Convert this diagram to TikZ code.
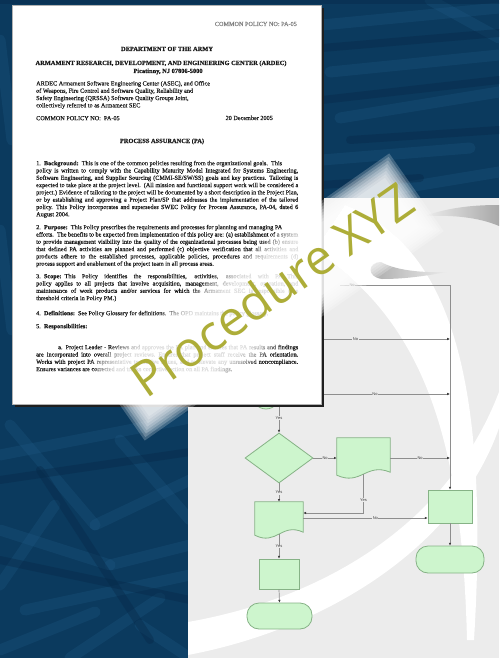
\documentclass[tikz,border=0pt]{standalone}
\usepackage{fontspec}
\setmainfont{Liberation Serif}
\newfontfamily\docfont{Liberation Serif}[FakeBold=0.35]
\newfontfamily\labelfont{Liberation Sans}
\newfontfamily\markfont{Open Sans}
\usetikzlibrary{shapes.geometric,arrows.meta,calc}

\definecolor{navy}{HTML}{0B3A5E}
\definecolor{navylight}{HTML}{1D5883}
\definecolor{navydark}{HTML}{062848}
\definecolor{pagegray}{HTML}{ECECEC}
\definecolor{swoosh}{HTML}{A8A8A8}
\definecolor{mint}{HTML}{CDF5CD}
\definecolor{mintline}{HTML}{86B286}
\definecolor{wire}{HTML}{8E8E8E}
\definecolor{tipcol}{HTML}{3C3C3C}
\definecolor{olive}{HTML}{ADAD38}
\definecolor{ink}{HTML}{1A1A1A}

% document symbol: rectangle with a wavy bottom edge, drawn round a named node
\newcommand\docoutline[1]{%
  \filldraw[flowshape] (#1.north west) -- (#1.north east) -- ($(#1.south east)+(0,-2)$)
    .. controls ($(#1.south east)!0.45!(#1.south west)+(0,-12)$)
       and ($(#1.south west)!0.45!(#1.south east)+(0,12)$) .. ($(#1.south west)+(0,1)$) -- cycle;}

\begin{document}
\begin{tikzpicture}[x=1pt,y=-1pt,
  streak/.style={navylight, line width=11pt, opacity=.32, line cap=round},
  darkstreak/.style={navydark, line width=8pt, opacity=.4, line cap=round},
  flowshape/.style={draw=mintline, fill=mint, line width=0.8pt},
  procbox/.style={flowshape, rectangle, inner sep=0},
  termbox/.style={flowshape, rectangle, rounded corners=12pt, inner sep=0},
  decision/.style={flowshape, diamond, inner sep=0},
  docnode/.style={rectangle, inner sep=0, draw=none},
  wireline/.style={wire, line width=0.7pt},
  flowarrow/.style={wireline, -{Latex[length=2.8pt,width=2.6pt,color=tipcol]}},
  branch/.style={font=\labelfont\fontsize{4}{4}\selectfont, text=ink!85, fill=pagegray, inner sep=0.5pt},
  doctext/.style={font=\docfont\fontsize{6.2}{7.3}\selectfont, text=ink, align=left, inner sep=0,
    anchor=north west, execute at begin node=\strut},
  bodytext/.style={doctext, text width=262pt, align=justify,
    execute at begin node={\tolerance=9999\hbadness=10000\strut}},
  headtext/.style={font=\docfont\bfseries\fontsize{6.4}{7.3}\selectfont, text=ink, inner sep=0, anchor=base},
  halo/.style={rotate=35, fill=white, draw=none, inner sep=0}
]
\useasboundingbox (0,0) rectangle (499,658);

% ---- woven dark blue backdrop ----
\fill[navy] (0,0) rectangle (499,658);
\begin{scope}
  \clip (0,0) rectangle (499,658);
  \foreach \xa/\ya/\xb/\yb in {0/455/190/418, 10/425/95/525, 95/525/190/480, 0/530/110/565,
      110/565/190/545, 25/610/190/575, 0/650/95/612, 70/658/160/598, 120/440/190/520,
      0/585/55/505, 140/625/190/658, 0/40/12/140, 0/230/12/330, 322/25/499/8,
      330/72/499/55, 340/118/499/92, 322/160/470/148, 390/190/499/172, 430/0/499/38}
    \draw[streak] (\xa,\ya) -- (\xb,\yb);
  \foreach \xa/\ya/\xb/\yb in {0/480/190/452, 40/470/150/640, 0/560/190/600, 322/48/499/33,
      322/100/499/80, 350/140/499/130, 322/185/420/178, 0/0/499/0}
    \draw[darkstreak] (\xa,\ya) -- (\xb,\yb);
\end{scope}

% ---- slide page behind the flowchart ----
\begin{scope}
  \clip (188,198) rectangle (499,658);
  \fill[pagegray] (188,198) rectangle (499,658);
  \fill[white] (188,622) .. controls (330,597) and (450,520) .. (499,392)
    -- (499,428) .. controls (458,545) and (330,628) .. (188,655) -- cycle;
  \fill[white] (345,205) .. controls (450,245) and (490,380) .. (474,640)
    -- (467,640) .. controls (462,430) and (420,320) .. (315,250) -- cycle;
  \shade[left color=pagegray, right color=swoosh] (425,216) .. controls (450,207) and (475,205) .. (499,205)
    -- (499,226) .. controls (478,217) and (452,215) .. (425,216) -- cycle;
  \shade[left color=swoosh, right color=pagegray] (447,272) .. controls (420,273) and (395,270) .. (381,262)
    .. controls (368,262) and (366,277) .. (382,279) .. controls (405,279) and (425,276) .. (447,272) -- cycle;
\end{scope}

% ---- flowchart ----
\node[flowshape, ellipse, minimum width=30pt, minimum height=34pt, inner sep=0] (start) at (266,392) {};
\node[decision, minimum width=68pt, minimum height=50pt] (dia) at (279,458) {};
\node[docnode, minimum width=53pt, minimum height=36pt] (d1) at (363.5,456) {};
\docoutline{d1}
\node[docnode, minimum width=48pt, minimum height=32pt] (d2) at (279,518) {};
\docoutline{d2}
\node[procbox, minimum width=44pt, minimum height=33pt] (boxR) at (450,506.5) {};
\node[termbox, minimum width=68pt, minimum height=27pt] (termR) at (450,559.5) {};
\node[procbox, minimum width=40pt, minimum height=30pt] (boxL) at (279,574) {};
\node[termbox, minimum width=65pt, minimum height=26pt] (termL) at (279.5,616) {};

\coordinate (y0) at (279,404);
\coordinate (nTop) at (340,285);
\coordinate (n2) at (300,339);
\coordinate (n3) at (300,394);
\coordinate (corner) at (boxR.north |- nTop);

\draw[flowarrow] (nTop) -- node[branch, pos=.11] (lno1) {No} (corner) -- (boxR.north);
\draw[flowarrow] (n2) -- node[branch, pos=.37] (lno2) {No} (n2 -| boxR.north);
\draw[flowarrow] (n3) -- node[branch, pos=.5] (lno3) {No} (n3 -| boxR.north);
\draw[flowarrow] (y0) -- node[branch] (lyes0) {Yes} (dia.north);
\draw[flowarrow] (dia.east) -- node[branch, pos=.5] (lno4) {No} (d1.west |- dia.east);
\draw[flowarrow] (d1.east |- dia.east) -- node[branch, pos=.5] (lno5) {No} (boxR.north |- dia.east);
\draw[flowarrow] (d1.south) |- node[branch, pos=.33] (lyes1) {Yes} ([yshift=5pt]d2.east);
\draw[flowarrow] (d2.east) -- node[branch, pos=.58] (lno6) {No} (d2.east -| boxR.west);
\draw[flowarrow] (dia.south) -- node[branch] (lyes2) {Yes} (d2.north);
\draw[flowarrow] (d2.south) -- node[branch] (lyes3) {Yes} (boxL.north);
\draw[flowarrow] (boxL.south) -- (termL.north);
\draw[flowarrow] (boxR.south) -- (termR.north);

% ---- policy document sheet ----
\fill[black!88] (15,8) rectangle (324,407);
\filldraw[fill=white, draw=black!30, line width=0.4pt] (12,5) rectangle (321,404);

\node[doctext, anchor=base east, text=black!50, execute at begin node={}] (polno) at (297,26) {COMMON POLICY NO: PA-05};
\node[headtext] (dept) at (167,51) {DEPARTMENT OF THE ARMY};
\node[headtext] (ardec) at (161,65) {ARMAMENT RESEARCH, DEVELOPMENT, AND ENGINEERING CENTER (ARDEC)};
\node[headtext] (site) at (168,73) {Picatinny, NJ 07806-5000};
\node[doctext] (joint) at (36,80.9) {ARDEC Armament Software Engineering Center (ASEC), and Office\\
of Weapons, Fire Control and Software Quality, Reliability and\\
Safety Engineering (QRSSA) Software Quality Groups Joint,\\
collectively referred to as Armament SEC};
\node[doctext] (polno2) at (36,114.9) {COMMON POLICY NO:\enspace PA-05};
\node[doctext, anchor=base east, execute at begin node={}] (date) at (273,120) {20 December 2005};
\node[headtext] (title) at (162,143) {PROCESS ASSURANCE (PA)};

\node[bodytext] (para1) at (36,159.9) {1.\enspace\textbf{Background:}\enspace This is one of the common policies resulting from the organizational goals.\enspace This\\
policy is written to comply with the Capability Maturity Model Integrated for Systems Engineering,\linebreak
Software Engineering, and Supplier Sourcing (CMMI-SE/SW/SS) goals and key practices.\enspace Tailoring is\linebreak
expected to take place at the project level.\enspace (All mission and functional support work will be considered a\linebreak
project.) Evidence of tailoring to the project will be documented by a short description in the Project Plan,\linebreak
or by establishing and approving a Project Plan/SP that addresses the implementation of the tailored\linebreak
policy.\enspace This Policy incorporates and supersedes SWEC Policy for Process Assurance, PA-04, dated 6\linebreak
August 2004.};

\node[bodytext] (para2) at (36,223.9) {2.\enspace\textbf{Purpose:}\enspace This Policy prescribes the requirements and processes for planning and managing PA\\
efforts.\enspace The benefits to be expected from implementation of this policy are: (a) establishment of a system\linebreak
to provide management visibility into the quality of the organizational processes being used (b) ensure\linebreak
that defined PA activities are planned and performed (c) objective verification that all activities and\linebreak
products adhere to the established processes, applicable policies, procedures and requirements (d)\linebreak
process support and enablement of the project team in all process areas.};

\node[bodytext] (para3) at (36,272.9) {3.\enspace\textbf{Scope:}\enspace This Policy identifies the responsibilities, activities, associated with PA.\enspace This\linebreak
policy applies to all projects that involve acquisition, management, development, operation, and\linebreak
maintenance of work products and/or services for which the Armament SEC is responsible (see\linebreak
threshold criteria in Policy PM.)};

\node[doctext] (para4) at (36,309.9) {4.\enspace\textbf{Definitions:}\enspace See Policy Glossary for definitions.\enspace The OPD maintains the policy glossary.};
\node[doctext] (para5) at (36,322.9) {5.\enspace\textbf{Responsibilities:}};

\node[bodytext] (para6) at (36,343.9) {\hspace*{22pt}a.\enspace Project Leader - Reviews and approves the PA plan and ensures that PA results and findings\linebreak
are incorporated into overall project reviews.\enspace Ensures that project staff receive the PA orientation.\linebreak
Works with project PA representative to resolve issues, and to elevate any unresolved noncompliance.\linebreak
Ensures variances are corrected and tracks corrective action on all PA findings.};

% ---- watermark with its soft white backing ----
\foreach \k in {0,...,7}
  \node[halo, minimum width={365pt-5pt*\k}, minimum height={95pt-5pt*\k}, fill opacity=.22] (halo\k) at (267,297) {};
\node[rotate=35, anchor=base west, text=olive, inner sep=0,
      font=\markfont\fontsize{49}{49}\selectfont] (mark) at (146,400) {Procedure XYZ};
\end{tikzpicture}
\end{document}
